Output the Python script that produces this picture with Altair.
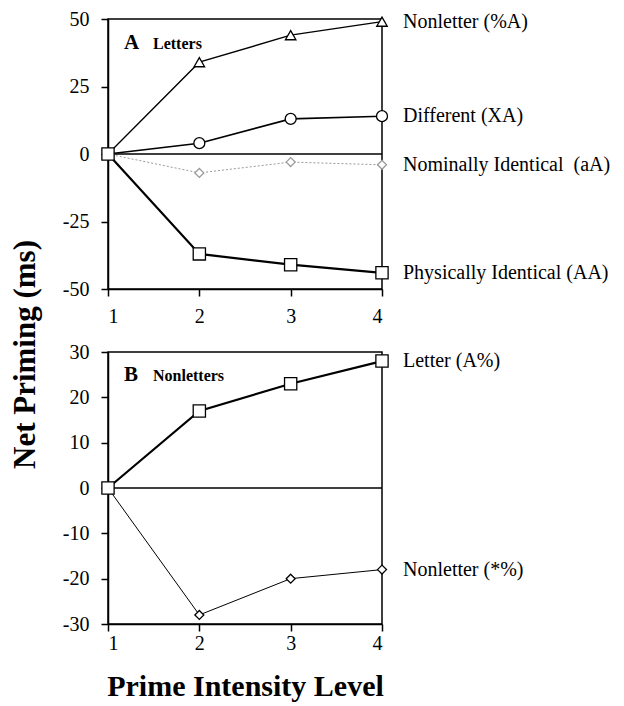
import altair as alt
import pandas as pd

levels = [1, 2, 3, 4]

# Panel A: Letters
a_nonletter = [0, 34, 44, 49]
a_different = [0, 4, 13, 14]
a_nominal = [0, -7, -3, -4]
a_physical = [0, -37, -41, -44]
a_labels = ["Nonletter (%A)", "Different (XA)", "Nominally Identical\u00a0\u00a0(aA)", "Physically Identical (AA)"]

# Panel B: Nonletters
b_letter = [0, 17, 23, 28]
b_nonletter = [0, -28, -20, -18]
b_labels = ["Letter (A%)", "Nonletter (*%)"]

a_ticks = [-50, -25, 0, 25, 50]
b_ticks = [-30, -20, -10, 0, 10, 20, 30]

FONT = "Liberation Serif"
HYPHEN = "datum.value + ''"


def series_layers(values, label, shape, size, width, color, dash, mcolor, xscale, yscale):
    df = pd.DataFrame({"level": levels, "value": values, "series": label})
    base = alt.Chart(df)
    line_kw = dict(color=color, strokeWidth=width)
    if dash:
        line_kw["strokeDash"] = dash
    line = base.mark_line(**line_kw).encode(
        x=alt.X("level:Q", scale=xscale), y=alt.Y("value:Q", scale=yscale)
    )
    pts = base.mark_point(shape=shape, size=size, filled=True, fill="white",
                          stroke=mcolor, strokeWidth=1.3, opacity=1).encode(
        x=alt.X("level:Q", scale=xscale), y=alt.Y("value:Q", scale=yscale)
    )
    last = pd.DataFrame({"level": [levels[-1]], "value": [values[-1]], "label": [label]})
    txt = alt.Chart(last).mark_text(align="left", baseline="middle", dx=21, font=FONT,
                                    fontSize=20, color="black").encode(
        x=alt.X("level:Q", scale=xscale), y=alt.Y("value:Q", scale=yscale), text="label:N"
    )
    return [line, pts, txt]


xscale = alt.Scale(domain=[1, 4], nice=False, zero=False)
ya = alt.Scale(domain=[-50, 50], nice=False)
yb = alt.Scale(domain=[-30, 30], nice=False)

# Panel A
zero_a = alt.Chart(pd.DataFrame({"v": [0]})).mark_rule(color="black", strokeWidth=1.5).encode(
    y=alt.Y("v:Q", scale=ya)
)
axis_a = alt.Chart(pd.DataFrame({"level": levels, "value": a_nonletter})).mark_point(opacity=0).encode(
    x=alt.X("level:Q", scale=xscale,
            axis=alt.Axis(values=levels, format="d", title=None, labelPadding=10)),
    y=alt.Y("value:Q", scale=ya,
            axis=alt.Axis(values=a_ticks, labelExpr=HYPHEN, title="Net Priming (ms)",
                          titleX=-74, titleY=335, titleFontSize=31,
                          titleBaseline="alphabetic", titleAngle=270, titleAlign="center")),
)
layers_a = [zero_a, axis_a]
layers_a += series_layers(a_nominal, a_labels[2], "diamond", 80, 1.0, "#999999", [2, 2], "#999999", xscale, ya)
layers_a += series_layers(a_nonletter, a_labels[0], "triangle-up", 110, 1.3, "black", None, "black", xscale, ya)
layers_a += series_layers(a_different, a_labels[1], "circle", 120, 1.6, "black", None, "black", xscale, ya)
layers_a += series_layers(a_physical, a_labels[3], "square", 150, 2.2, "black", None, "black", xscale, ya)
tag_a1 = alt.Chart(pd.DataFrame({"t": ["A"]})).mark_text(
    align="left", baseline="alphabetic", font=FONT, fontSize=21, fontWeight="bold", color="black"
).encode(x=alt.value(16), y=alt.value(30), text="t:N")
tag_a2 = alt.Chart(pd.DataFrame({"t": ["Letters"]})).mark_text(
    align="left", baseline="alphabetic", font=FONT, fontSize=16, fontWeight="bold", color="black"
).encode(x=alt.value(45), y=alt.value(30), text="t:N")
layers_a += [tag_a1, tag_a2]
panel_a = alt.layer(*layers_a).properties(width=274, height=270)

# Panel B
zero_b = alt.Chart(pd.DataFrame({"v": [0]})).mark_rule(color="black", strokeWidth=1.5).encode(
    y=alt.Y("v:Q", scale=yb)
)
axis_b = alt.Chart(pd.DataFrame({"level": levels, "value": b_letter})).mark_point(opacity=0).encode(
    x=alt.X("level:Q", scale=xscale,
            axis=alt.Axis(values=levels, format="d", title="Prime Intensity Level", labelPadding=2,
                          titlePadding=18, titleFontSize=30, titleFontWeight="bold")),
    y=alt.Y("value:Q", scale=yb, axis=alt.Axis(values=b_ticks, labelExpr=HYPHEN, title=None)),
)
layers_b = [zero_b, axis_b]
layers_b += series_layers(b_nonletter, b_labels[1], "diamond", 80, 1.0, "black", None, "black", xscale, yb)
layers_b += series_layers(b_letter, b_labels[0], "square", 150, 2.2, "black", None, "black", xscale, yb)
tag_b1 = alt.Chart(pd.DataFrame({"t": ["B"]})).mark_text(
    align="left", baseline="alphabetic", font=FONT, fontSize=21, fontWeight="bold", color="black"
).encode(x=alt.value(16), y=alt.value(29), text="t:N")
tag_b2 = alt.Chart(pd.DataFrame({"t": ["Nonletters"]})).mark_text(
    align="left", baseline="alphabetic", font=FONT, fontSize=16, fontWeight="bold", color="black"
).encode(x=alt.value(45), y=alt.value(29), text="t:N")
layers_b += [tag_b1, tag_b2]
panel_b = alt.layer(*layers_b).properties(width=274, height=272)

chart = alt.vconcat(panel_a, panel_b, spacing=63, bounds="flush").properties(
    padding={"left": 0, "top": 0, "right": 5, "bottom": 0}, background="white"
).configure_view(
    stroke="black", strokeWidth=1.5
).configure_axis(
    grid=False, domainColor="black", domainWidth=1.5, tickColor="black", tickWidth=1.5,
    tickSize=7, labelFont=FONT, labelFontSize=20, labelColor="black", labelPadding=12,
    titleFont=FONT, titleFontSize=27, titleFontWeight="bold", titleColor="black"
)

chart.save("out.html", embed_options={"renderer": "svg", "actions": False})
